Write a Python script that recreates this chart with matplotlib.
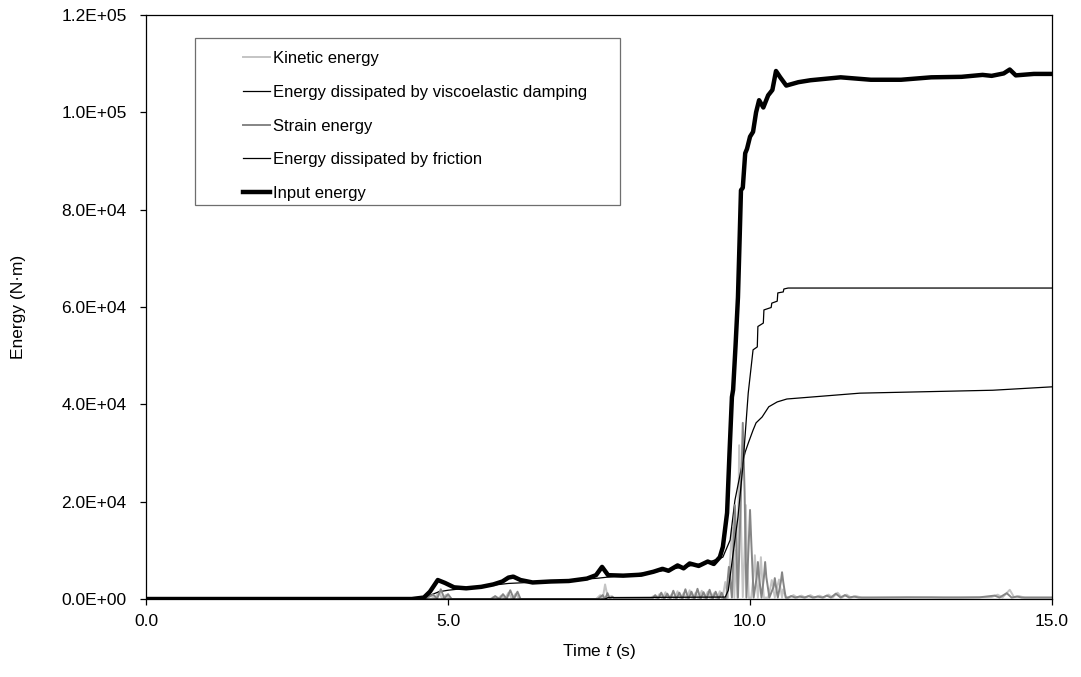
import matplotlib
matplotlib.use('Agg')
import matplotlib.pyplot as plt
from matplotlib.patches import Rectangle
from matplotlib.ticker import FuncFormatter, MultipleLocator

plt.rcParams['font.family'] = ['Liberation Sans', 'DejaVu Sans']
plt.rcParams['mathtext.fontset'] = 'custom'
plt.rcParams['mathtext.rm'] = 'Liberation Sans'
plt.rcParams['mathtext.it'] = 'Liberation Sans:italic'

# time histories (s, N·m)
t_input = [0.0, 4.4, 4.6, 4.7, 4.83, 4.95, 5.1, 5.3, 5.55, 5.75, 5.9, 6.0, 6.08, 6.2, 6.4,
           6.7, 7.0, 7.3, 7.45, 7.55, 7.65, 7.9, 8.2, 8.4, 8.55, 8.65, 8.8, 8.9, 9.0, 9.15,
           9.3, 9.4, 9.5, 9.55, 9.62, 9.66, 9.70, 9.72, 9.76, 9.80, 9.83, 9.85, 9.88, 9.92,
           9.95, 10.0, 10.05, 10.1, 10.15, 10.22, 10.3, 10.37, 10.43, 10.5, 10.6, 10.8,
           11.0, 11.5, 12.0, 12.5, 13.0, 13.5, 13.85, 14.0, 14.2, 14.3, 14.4, 14.7, 15.0]
e_input = [0, 0, 300, 1500, 3900, 3300, 2400, 2200, 2500, 3000, 3600, 4400, 4600, 3900, 3400,
           3600, 3700, 4200, 4900, 6600, 4900, 4800, 5000, 5600, 6200, 5800, 6900, 6300, 7300, 6800,
           7700, 7200, 8600, 10700, 17700, 30000, 41500, 43000, 52000, 62000, 75000, 84000, 84500, 91600,
           92500, 95000, 96000, 100000, 102500, 101000, 103500, 104600, 108500, 107200, 105500, 106200,
           106600, 107200, 106700, 106700, 107200, 107300, 107700, 107500, 108000, 108800, 107600, 107900, 107900]

t_visco = [0.0, 4.5, 4.65, 4.85, 5.0, 5.5, 6.0, 6.5, 7.0, 7.5, 8.0, 8.5, 9.0, 9.3, 9.55,
           9.67, 9.75, 9.86, 9.92, 9.97, 10.05, 10.1, 10.2, 10.31, 10.45, 10.61, 11.82, 14.02, 15.0]
e_visco = [0, 0, 500, 1500, 1800, 2500, 3200, 3500, 3800, 4300, 5000, 5700, 6800, 7500, 8600,
           12100, 20300, 27100, 30200, 32000, 34700, 36200, 37400, 39500, 40500, 41100, 42300, 42900, 43600]

t_fric = [0.0, 7.6, 7.65, 9.59, 9.64, 9.72, 9.80, 9.88, 9.97, 10.05, 10.12, 10.13, 10.22, 10.23,
          10.35, 10.36, 10.45, 10.46, 10.55, 10.56, 10.63, 15.0]
e_fric = [0, 0, 300, 400, 1800, 9400, 16800, 27100, 42300, 51200, 51800, 56000, 56700, 59400,
          59900, 60800, 61200, 62900, 63100, 63700, 63900, 63900]

t_kin = [0.0, 4.6, 4.72, 4.78, 4.85, 4.90, 4.97, 5.02, 5.7, 5.75, 5.82, 5.88, 5.94, 6.0, 6.06,
         6.12, 6.18, 7.45, 7.52, 7.56, 7.6, 7.65, 7.7, 7.75, 8.35, 8.40, 8.45, 8.50, 8.55, 8.60,
         8.65, 8.70, 8.75, 8.80, 8.85, 8.90, 8.95, 9.00, 9.05, 9.10, 9.15, 9.20, 9.25, 9.30, 9.35,
         9.40, 9.45, 9.50, 9.54, 9.57, 9.59, 9.61, 9.63, 9.66, 9.68, 9.70, 9.72, 9.74, 9.76, 9.79,
         9.82, 9.85, 9.88, 9.91, 9.93, 9.95, 9.98, 10.02, 10.06, 10.08, 10.10, 10.13, 10.16,
         10.18, 10.20, 10.23, 10.30, 10.34, 10.36, 10.38, 10.41, 10.45, 10.48, 10.50, 10.53,
         10.55, 10.57, 10.60, 10.65, 10.72, 10.78, 10.85, 10.92, 11.0, 11.07, 11.15, 11.22, 11.3,
         11.37, 11.45, 11.52, 11.6, 11.67, 11.75, 11.85, 12.5, 13.0, 13.5, 14.0, 14.1, 14.18,
         14.3, 14.37, 14.45, 14.55, 15.0]
e_kin = [0, 0, 600, 100, 1500, 100, 900, 0, 0, 400, 0, 700, 0, 1300, 0,
         1100, 0, 0, 800, 0, 3000, 0, 600, 0, 0, 600, 0, 1000, 0, 1400,
         0, 900, 0, 1600, 0, 1200, 0, 1800, 0, 1300, 0, 1700, 0, 1500, 0,
         1200, 0, 1600, 0, 2000, 3500, 2000, 200, 6000, 10000, 14600, 8000, 300, 10000, 300,
         31600, 16000, 400, 10000, 19300, 9000, 300, 300, 5000, 9000, 5000, 300, 4500,
         8600, 4500, 300, 300, 2500, 3900, 2500, 300, 2500, 4000, 2500, 300,
         2000, 1200, 300, 300, 800, 300, 700, 300, 800, 300, 700, 300, 900,
         300, 1300, 300, 900, 300, 600, 300, 300, 400, 300, 400, 900, 300,
         1900, 400, 600, 300, 300]

t_strain = [0.0, 4.6, 4.75, 4.82, 4.88, 4.94, 5.00, 5.06, 5.72, 5.78, 5.85, 5.91, 5.97, 6.03,
            6.09, 6.15, 6.2, 7.48, 7.56, 7.6, 7.64, 7.68, 7.72, 7.76, 8.38, 8.43, 8.48, 8.53, 8.58,
            8.63, 8.68, 8.73, 8.78, 8.83, 8.88, 8.93, 8.98, 9.03, 9.08, 9.13, 9.18, 9.23, 9.28, 9.33,
            9.38, 9.43, 9.48, 9.53, 9.57, 9.61, 9.63, 9.65, 9.67, 9.70, 9.73, 9.75, 9.77, 9.80,
            9.85, 9.88, 9.91, 9.94, 9.98, 10.0, 10.02, 10.06, 10.11, 10.13, 10.15, 10.19, 10.23,
            10.25, 10.27, 10.32, 10.39, 10.41, 10.43, 10.46, 10.51, 10.53, 10.55, 10.59, 10.63,
            10.68, 10.75, 10.82, 10.9, 10.97, 11.04, 11.12, 11.2, 11.27, 11.34, 11.42, 11.5, 11.57,
            11.64, 11.72, 11.8, 12.0, 12.6, 13.2, 13.8, 14.05, 14.13, 14.25, 14.33, 14.42, 14.5, 15.0]
e_strain = [0, 0, 900, 100, 2000, 100, 1000, 0, 0, 600, 0, 1000, 0, 1800,
            0, 1500, 0, 0, 800, 0, 1200, 0, 500, 0, 0, 800, 0, 1300, 0,
            1100, 0, 1700, 0, 1300, 0, 2000, 0, 1500, 0, 2100, 0, 1400, 0, 1900,
            0, 1500, 0, 1300, 0, 300, 4000, 6600, 4000, 300, 12000, 19300, 12000, 300,
            22000, 36200, 22000, 300, 12000, 18300, 12000, 300, 4500, 7600, 4500, 300, 4500,
            7600, 4500, 300, 2500, 4300, 2500, 300, 3500, 5500, 3500, 300, 300,
            600, 300, 500, 300, 600, 300, 500, 300, 700, 300, 1100, 300, 800,
            300, 500, 300, 300, 350, 300, 350, 700, 300, 1200, 300, 500, 300, 300]

fig = plt.figure(figsize=(10.81, 6.77), dpi=100)
ax = fig.add_axes([0.1351, 0.1152, 0.8381, 0.8626])

ax.plot(t_kin, e_kin, color='#c4c4c4', lw=1.4, label='Kinetic energy')
ax.plot(t_visco, e_visco, color='black', lw=0.9, label='Energy dissipated by viscoelastic damping')
ax.plot(t_strain, e_strain, color='#858585', lw=1.4, label='Strain energy')
ax.plot(t_fric, e_fric, color='black', lw=0.9, label='Energy dissipated by friction')
ax.plot(t_input, e_input, color='black', lw=3.2, label='Input energy')

ax.set_xlim(0, 15)
ax.set_ylim(0, 1.2e5)
ax.xaxis.set_major_locator(MultipleLocator(5))
ax.yaxis.set_major_locator(MultipleLocator(2e4))
ax.xaxis.set_major_formatter(FuncFormatter(lambda v, p: f'{v:.1f}'))
ax.yaxis.set_major_formatter(FuncFormatter(lambda v, p: f'{v:.1E}'))
ax.tick_params(direction='out', length=4, width=0.9, labelsize=12.5, colors='black')
ax.tick_params(axis='y', pad=10)
ax.tick_params(axis='x', pad=7)
for s in ax.spines.values():
    s.set_linewidth(0.9)

ax.set_xlabel('Time $t$ (s)', fontsize=12.5, labelpad=9)
ax.set_ylabel('Energy (N·m)', fontsize=12.5)
ax.yaxis.set_label_coords(-0.1325, 0.5)

# legend box drawn separately so the entries sit with a wide left margin
ax.add_patch(Rectangle((0.0541, 0.6747), 0.4691, 0.2859, transform=ax.transAxes,
                       fill=False, edgecolor='#6e6e6e', lw=0.9, zorder=5))
ax.legend(loc='upper left', bbox_to_anchor=(0.107, 0.938), frameon=False, fontsize=12,
          handlelength=1.65, handletextpad=0.15, labelspacing=1.12, borderpad=0,
          borderaxespad=0)

fig.savefig('out.png', dpi=100)
